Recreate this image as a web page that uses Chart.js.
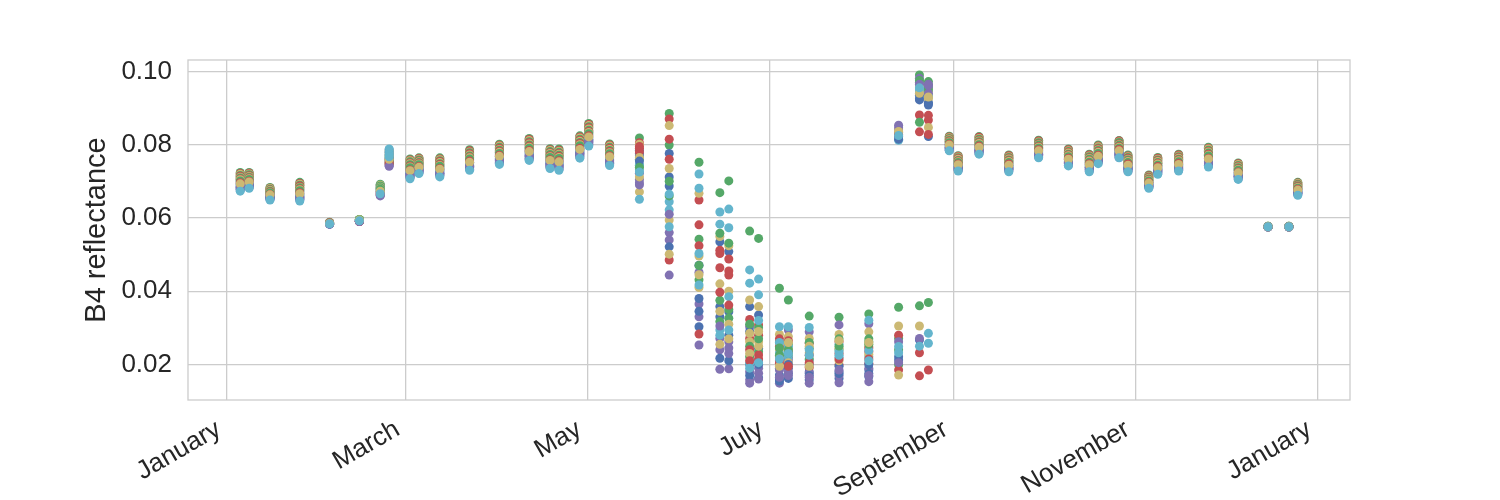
<!DOCTYPE html>
<html>
<head>
<meta charset="utf-8">
<script src="https://cdn.jsdelivr.net/npm/chart.js@4.4.0/dist/chart.umd.min.js"></script>
<style>
  html, body { margin: 0; padding: 0; background: #ffffff; }
  #wrap { width: 1500px; height: 500px; }
</style>
</head>
<body>
<div id="wrap"><canvas id="chart" width="1500" height="500"></canvas></div>
<script>
// acquisition dates (2016), one column of points per date
const acqDates = [
  "2016-01-05", "2016-01-08", "2016-01-15", "2016-01-25", "2016-02-04", "2016-02-14",
  "2016-02-21", "2016-02-24", "2016-03-02", "2016-03-05", "2016-03-12", "2016-03-22",
  "2016-04-01", "2016-04-11", "2016-04-18", "2016-04-21", "2016-04-28", "2016-05-01",
  "2016-05-08", "2016-05-18", "2016-05-28", "2016-06-07", "2016-06-14", "2016-06-17",
  "2016-06-24", "2016-06-27", "2016-07-04", "2016-07-07", "2016-07-14", "2016-07-24",
  "2016-08-03", "2016-08-13", "2016-08-20", "2016-08-23", "2016-08-30", "2016-09-02",
  "2016-09-09", "2016-09-19", "2016-09-29", "2016-10-09", "2016-10-16", "2016-10-19",
  "2016-10-26", "2016-10-29", "2016-11-05", "2016-11-08", "2016-11-15", "2016-11-25",
  "2016-12-05", "2016-12-15", "2016-12-22", "2016-12-25"
];
const acqTime = "T10:35:00Z";

// B4 reflectance x 10000, one row per date, one entry per pixel (24 pixels)
const b4Rows = [
  [693,724,721,688,719,704, 686,716,714,681,711,699, 678,709,706,676,704,691, 683,701,696,683,693,673],
  [698,724,722,694,720,707, 692,718,715,687,713,703, 685,711,709,683,707,696, 690,705,700,690,698,681],
  [663,683,681,659,680,669, 658,678,676,654,675,666, 652,673,671,651,669,661, 656,668,664,656,663,649],
  [666,697,694,661,692,677, 659,689,687,654,684,672, 651,682,679,649,677,664, 656,674,669,656,666,646],
  [585,588,587,584,587,586, 584,587,587,583,586,585, 583,586,586,583,585,584, 584,585,585,583,585,584],
  [593,596,590,592,595,594, 592,596,591,591,595,593, 591,595,590,591,594,593, 592,595,591,590,594,592],
  [690,692,673,670,689,679, 686,687,668,665,684,676, 681,682,663,662,679,671, 674,678,666,660,673,666],
  [786,769,760,755,783,788, 779,765,753,748,776,781, 772,757,746,743,769,774, 762,750,750,741,760,767],
  [729,761,758,723,756,739, 721,753,750,715,748,734, 712,745,742,710,739,726, 718,737,731,718,729,707],
  [738,764,762,734,760,747, 732,758,755,727,753,743, 725,751,749,723,747,736, 730,745,740,730,738,721],
  [733,764,761,728,759,743, 725,756,754,720,751,738, 717,748,746,715,743,730, 722,741,735,722,733,712],
  [752,786,783,747,780,764, 744,778,775,738,772,758, 736,769,766,733,764,750, 741,761,755,741,752,730],
  [768,801,798,763,796,779, 760,793,790,754,787,774, 752,785,782,749,779,765, 757,776,771,757,768,746],
  [781,817,814,775,811,793, 772,808,805,766,802,787, 763,799,796,760,793,778, 769,790,784,769,781,757],
  [757,789,786,751,784,767, 749,781,778,743,776,762, 740,773,770,738,767,754, 746,765,759,746,757,735],
  [753,788,785,747,782,765, 745,779,776,739,774,759, 736,771,768,733,765,750, 742,762,756,742,753,730],
  [787,824,821,781,818,800, 778,815,812,772,809,794, 769,806,803,766,800,784, 775,797,790,775,787,763],
  [821,858,855,815,852,833, 812,849,846,805,843,827, 802,839,836,799,833,818, 808,830,824,808,821,796],
  [767,802,799,761,796,778, 758,793,790,752,787,773, 749,784,781,746,778,764, 755,775,770,755,767,743],
  [785,818,805,722,801,731, 776,744,790,696,671,651, 770,760,780,690,765,745, 755,738,795,705,712,725],
  [712,885,870,560,852,644, 687,799,815,540,735,622, 521,660,485,444,594,576, 776,700,760,610,501,665],
  [471,752,649,452,667,720, 303,542,581,365,496,681, 380,431,524,330,410,503, 345,470,283,253,445,417],
  [535,669,512,271,549,616, 358,558,503,240,420,583, 330,317,464,187,345,294, 217,375,397,305,255,280],
  [508,701,488,262,524,624, 344,531,455,188,400,573, 210,326,444,230,310,385, 280,350,362,245,270,294],
  [358,564,323,303,376,458, 290,221,271,180,262,422, 200,250,240,158,230,203, 170,310,210,149,285,190],
  [335,544,308,212,358,433, 244,300,280,190,262,390, 164,235,226,176,250,320, 200,270,215,160,290,205],
  [171,408,249,221,282,303, 190,261,203,149,240,231, 160,225,270,185,215,260, 155,245,210,165,195,215],
  [190,376,235,294,276,303, 162,255,220,212,245,221, 175,230,265,180,205,250, 200,240,195,170,260,230],
  [158,332,258,289,271,301, 180,244,192,176,232,212, 200,260,225,149,250,240, 170,215,205,165,195,225],
  [180,329,262,308,282,220, 162,240,199,150,244,255, 195,270,230,170,210,235, 175,250,215,185,265,225],
  [167,338,235,311,289,321, 185,262,203,190,249,221, 200,270,245,153,228,238, 175,255,215,170,260,210],
  [822,356,833,853,840,812, 815,271,828,846,836,825, 221,240,280,262,305,249, 212,199,185,205,171,232],
  [922,990,881,981,960,944, 926,861,835,970,952,949, 935,975,232,965,940,955, 267,360,169,271,305,250],
  [908,972,867,965,847,935, 822,960,828,955,945,931, 915,950,880,940,925,258, 912,369,185,962,930,285],
  [799,823,821,795,819,807, 793,817,815,789,813,803, 787,811,809,785,807,797, 791,805,801,791,799,783],
  [745,770,768,741,766,753, 739,764,762,734,760,749, 732,757,755,730,753,743, 736,751,747,736,745,728],
  [793,822,820,788,817,803, 786,815,812,781,810,798, 779,808,805,776,803,791, 784,800,796,784,793,774],
  [744,772,770,740,767,754, 738,765,763,733,761,749, 731,758,756,728,754,742, 735,751,747,735,744,726],
  [783,812,810,778,807,793, 776,805,802,771,800,788, 769,798,795,766,793,781, 774,790,786,774,783,764],
  [760,788,786,756,783,770, 754,781,779,749,777,765, 747,774,772,744,770,758, 751,767,763,751,760,742],
  [745,774,772,740,769,755, 738,767,764,733,762,750, 731,760,757,728,755,743, 736,752,748,736,745,726],
  [768,799,796,763,794,779, 761,791,789,756,786,774, 753,784,781,751,779,766, 758,776,771,758,768,748],
  [784,811,810,779,807,794, 776,806,802,771,800,789, 769,798,795,765,793,782, 774,790,787,775,783,764],
  [745,772,769,740,767,753, 737,765,763,733,760,749, 731,758,755,727,754,742, 735,751,747,736,744,726],
  [695,717,715,692,713,703, 690,712,710,686,708,699, 685,706,704,683,703,694, 688,701,697,688,695,681],
  [737,765,763,733,760,747, 731,758,756,726,754,742, 724,751,749,721,747,735, 728,744,740,728,737,719],
  [746,774,772,742,769,756, 740,767,765,735,763,751, 733,760,758,730,756,744, 737,753,749,737,746,728],
  [761,793,790,755,788,771, 753,785,782,747,780,766, 744,777,774,742,771,758, 750,769,763,750,761,739],
  [723,750,748,719,746,732, 716,743,741,712,739,728, 710,737,734,707,732,721, 714,730,725,714,723,705],
  [576,577,576,576,577,576, 576,577,576,575,576,576, 576,576,576,575,576,576, 576,576,576,575,576,576],
  [576,577,576,576,577,576, 576,577,576,575,576,576, 576,576,576,575,576,576, 576,576,576,575,576,576],
  [676,697,695,673,694,683, 671,692,690,667,688,680, 666,687,685,664,683,674, 669,681,678,669,676,662]
];

const palette = ["#4C72B0", "#55A868", "#C44E52", "#8172B2", "#CCB974", "#64B5CD"];

const monthTicks = ["2016-01-01", "2016-03-01", "2016-05-01", "2016-07-01", "2016-09-01", "2016-11-01", "2017-01-01"];
const monthLabels = ["January", "March", "May", "July", "September", "November", "January"];
const yTicks = [0.02, 0.04, 0.06, 0.08, 0.10];

const xMin = Date.UTC(2015, 11, 18, 22);
const xMax = Date.UTC(2017, 0, 11, 23);
const textColor = "#262626";
const gridColor = "#cccccc";
const fontFamily = "'Liberation Sans', Arial, sans-serif";

const nPixels = b4Rows[0].length;
const datasets = [];
for (let s = 0; s < nPixels; s++) {
  datasets.push({
    label: "pixel " + (s + 1),
    data: acqDates.map((d, i) => ({ x: Date.parse(d + acqTime), y: b4Rows[i][s] / 10000 })),
    backgroundColor: palette[s % palette.length],
    borderWidth: 0,
    pointRadius: 4.5,
    pointHoverRadius: 4.5,
    order: nPixels - s
  });
}

// grey frame round the plot area, like the axes spines
const frame = {
  id: "frame",
  beforeDatasetsDraw(chart) {
    const { ctx, chartArea: a } = chart;
    ctx.save();
    ctx.strokeStyle = gridColor;
    ctx.lineWidth = 1.3;
    ctx.strokeRect(a.left, a.top, a.right - a.left, a.bottom - a.top);
    ctx.restore();
  }
};

new Chart(document.getElementById("chart"), {
  type: "scatter",
  data: { datasets },
  options: {
    responsive: false,
    animation: false,
    devicePixelRatio: 1,
    layout: { padding: { left: 0, right: 150, top: 60, bottom: 0 } },
    plugins: { legend: { display: false }, tooltip: { enabled: false } },
    scales: {
      x: {
        type: "linear",
        min: xMin,
        max: xMax,
        afterBuildTicks: axis => { axis.ticks = monthTicks.map(d => ({ value: Date.parse(d + "T00:00:00Z") })); },
        afterFit: axis => { axis.height = 100; },
        ticks: {
          autoSkip: false,
          minRotation: 30,
          maxRotation: 30,
          padding: 14,
          labelOffset: -8,
          color: textColor,
          font: { family: fontFamily, size: 26 },
          callback: (v, i) => monthLabels[i]
        },
        grid: { color: gridColor, lineWidth: 1.3, drawTicks: false },
        border: { display: false }
      },
      y: {
        min: 0.0103,
        max: 0.1031,
        afterBuildTicks: axis => { axis.ticks = yTicks.map(v => ({ value: v })); },
        afterFit: axis => { axis.width = 188; },
        ticks: {
          padding: 16,
          color: textColor,
          font: { family: fontFamily, size: 26 },
          callback: v => v.toFixed(2)
        },
        grid: { color: gridColor, lineWidth: 1.3, drawTicks: false },
        border: { display: false },
        title: {
          display: true,
          text: "B4 reflectance",
          color: textColor,
          font: { family: fontFamily, size: 29 },
          padding: { top: 80, bottom: 0 }
        }
      }
    }
  },
  plugins: [frame]
});
</script>
</body>
</html>
